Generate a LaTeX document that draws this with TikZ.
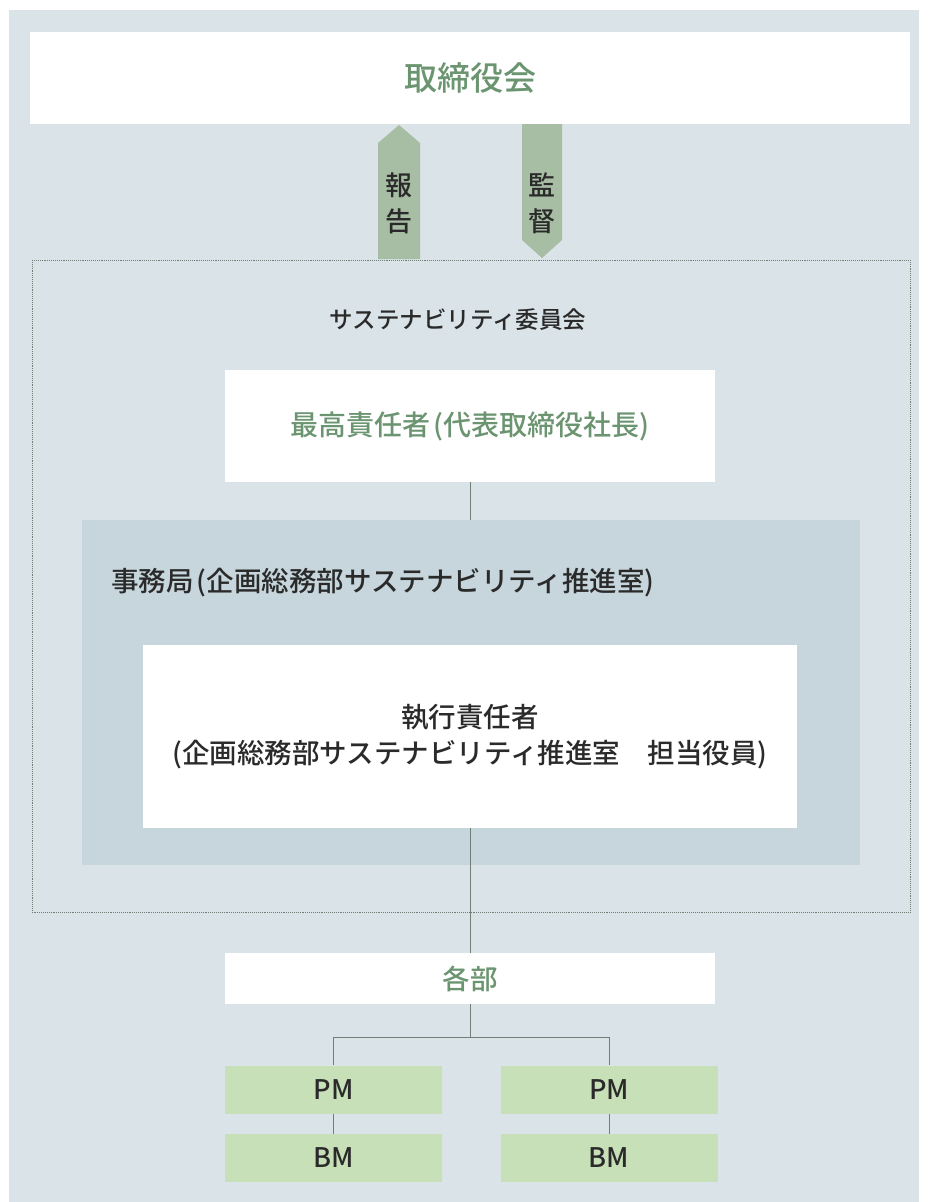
\documentclass[tikz,border=0pt]{standalone}
\usepackage{fontspec}
\setmainfont{Noto Sans CJK JP}[UprightFont=* Medium, BoldFont=* Bold]
\usetikzlibrary{positioning}

\definecolor{panelbg}{HTML}{DAE4E8}
\definecolor{officebg}{HTML}{C6D6DC}
\definecolor{arrowgreen}{HTML}{A8BEA4}
\definecolor{labelgreen}{HTML}{6B9470}
\definecolor{pmgreen}{HTML}{C7E0B8}
\definecolor{linkgray}{HTML}{6F7F76}
\definecolor{inkgray}{HTML}{2A2A2A}

\newcommand{\lp}{\hspace{0.12em}(}
\tikzset{
  whitebox/.style={fill=white, inner sep=0pt},
  greentext/.style={text=labelgreen},
  unitbox/.style={fill=pmgreen, minimum width=217pt, minimum height=48pt,
    inner sep=0pt, text=inkgray, font=\fontsize{27}{29}\selectfont},
  arrowtext/.style={text=inkgray, align=center, font=\fontsize{27}{36}\selectfont},
  link/.style={draw=linkgray, line width=0.9pt},
}

\begin{document}
\begin{tikzpicture}[x=1pt, y=-1pt, font=\fontsize{27.5}{36}\selectfont]
  \useasboundingbox (0,0) rectangle (929,1202);
  \fill[white] (0,0) rectangle (929,1202);
  \fill[panelbg] (9,10) rectangle (919,1202);                 % panel

  \node[whitebox, greentext, minimum width=880pt, minimum height=92pt,
    font=\fontsize{33}{35}\selectfont] (board) at (470,78) {取締役会};

  % report / supervise arrows
  \fill[arrowgreen] (378,259) -- (378,143) -- (399,125) -- (420,143) -- (420,259) -- cycle;
  \fill[arrowgreen] (522,124) -- (562,124) -- (562,240) -- (542,258) -- (522,240) -- cycle;
  \node[arrowtext] (report) at (399,203) {報\\告};
  \node[arrowtext] (supervise) at (542,203) {監\\督};

  \draw[densely dotted, draw=linkgray, line width=0.9pt] (32,260) rectangle (910,912); % committee
  \node[text=inkgray, font=\fontsize{23.5}{26}\selectfont] (committee) at (458,320) {サステナビリティ委員会};

  \node[whitebox, greentext, minimum width=490pt, minimum height=112pt,
    font=\fontsize{28}{30}\selectfont] (chief) at (470,426)
    {最高責任者\lp 代表取締役社長)};

  \node[fill=officebg, minimum width=778pt, minimum height=345pt, inner sep=0pt] (office) at (471,692.5) {};
  \node[text=inkgray, anchor=west, inner sep=0pt] (officetitle) at (111,583)
    {事務局\lp 企画総務部サステナビリティ推進室)};

  \node[whitebox, text=inkgray, align=center, minimum width=654pt, minimum height=183pt] (exec) at (470,736.5)
    {執行責任者\\(企画総務部サステナビリティ推進室　担当役員)};

  \node[whitebox, greentext, minimum width=490pt, minimum height=51pt] (depts) at (470,978.5) {各部};

  \node[unitbox] (pmleft) at (333.5,1089.5) {PM};
  \node[unitbox] (pmright) at (609,1089.5) {PM};
  \node[unitbox, below=20pt of pmleft] (bmleft) {BM};
  \node[unitbox, below=20pt of pmright] (bmright) {BM};
  \coordinate (split) at (470,1037);

  \draw[link] (chief.south) -- (chief.south |- office.north);
  \draw[link] (exec.south) -- (depts.north);
  \draw[link] (depts.south) -- (split);
  \draw[link] (pmleft.north) -- (pmleft.north |- split) -- (pmright.north |- split) -- (pmright.north);
  \draw[link] (pmleft) -- (bmleft);
  \draw[link] (pmright) -- (bmright);
\end{tikzpicture}
\end{document}
